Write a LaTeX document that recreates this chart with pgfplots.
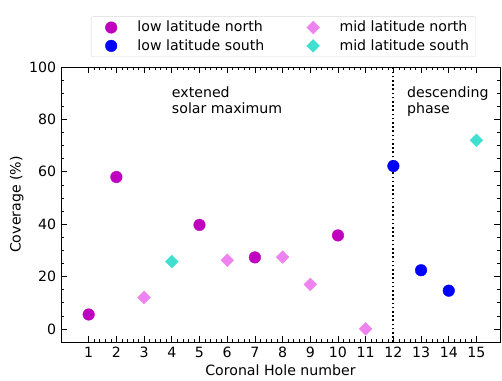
\documentclass[border=0pt]{standalone}
\usepackage{pgfplots}
\pgfplotsset{compat=1.18}
\usepackage{fontspec}
\setmainfont{DejaVu Sans}
\definecolor{lown}{HTML}{BF00BF}
\definecolor{lows}{HTML}{0000FF}
\definecolor{midn}{HTML}{EE82EE}
\definecolor{mids}{HTML}{40E0D0}
\newcommand{\fs}{\fontsize{14.2}{16.5}\selectfont}
\begin{document}
\fs
\begin{tikzpicture}
\begin{axis}[
  scale only axis, width=439bp, height=275bp,
  xmin=0, xmax=15.85, ymin=-5, ymax=100,
  xtick={1,...,15}, ytick={0,20,...,100},
  minor x tick num=4, minor y tick num=3,
  tick align=inside, tick pos=both,
  major tick length=6.5bp, minor tick length=3bp,
  tick style={black, line width=0.6pt},
  axis line style={line width=0.8pt},
  /pgf/number format/assume math mode=true,
  ticklabel style={font=\fs},
  label style={font=\fs},
  xlabel={Coronal Hole number}, ylabel={Coverage (\%)},
  xlabel style={yshift=2.5bp}, ylabel style={yshift=-4bp},
  legend columns=2,
  legend style={at={([xshift=30bp,yshift=10bp]axis description cs:0,1)}, anchor=south west,
    draw=black!15, rounded corners=2pt, font=\fs,
    /tikz/every even column/.append style={column sep=31.3bp},
    inner xsep=4.5bp, inner ysep=2.5bp, row sep=1.5bp},
  legend cell align=left,
  legend image code/.code={\path[draw=none,fill=none] (-15.5bp,0) -- (24.3bp,0); \draw[#1] plot coordinates {(0,0)};},
  clip=false,
]
\addplot[only marks, mark=*, mark size=5.8bp, color=lown, mark options={draw=none}] coordinates {
 (1,5.5) (2,58) (5,39.7) (7,27.3) (10,35.7)};
\addlegendentry{low latitude north}
\addplot[only marks, mark=square*, mark size=4.5bp, color=midn, mark options={draw=none, rotate=45}] coordinates {
 (3,12) (6,26.2) (8,27.4) (9,17) (11,0)};
\addlegendentry{mid latitude north}
\addplot[only marks, mark=*, mark size=5.8bp, color=lows, mark options={draw=none}] coordinates {
 (12,62.2) (13,22.4) (14,14.6)};
\addlegendentry{low latitude south}
\addplot[only marks, mark=square*, mark size=4.5bp, color=mids, mark options={draw=none, rotate=45}] coordinates {
 (4,25.7) (15,72)};
\addlegendentry{mid latitude south}
\draw[black, line width=1.8bp, dash pattern=on 1.6bp off 2.6bp] (axis cs:12,-5) -- (axis cs:12,100);
\node[anchor=north west, align=left, inner sep=0pt, font=\fs] at (axis cs:4.0,92.7) {extened\\solar maximum};
\node[anchor=north west, align=left, inner sep=0pt, font=\fs] at (axis cs:12.49,92.7) {descending\\phase};
\path (rel axis cs:0,0) -- ++(-61bp,-36bp);
\path (rel axis cs:1,1) -- ++(2bp,67bp);
\end{axis}
\end{tikzpicture}
\end{document}
